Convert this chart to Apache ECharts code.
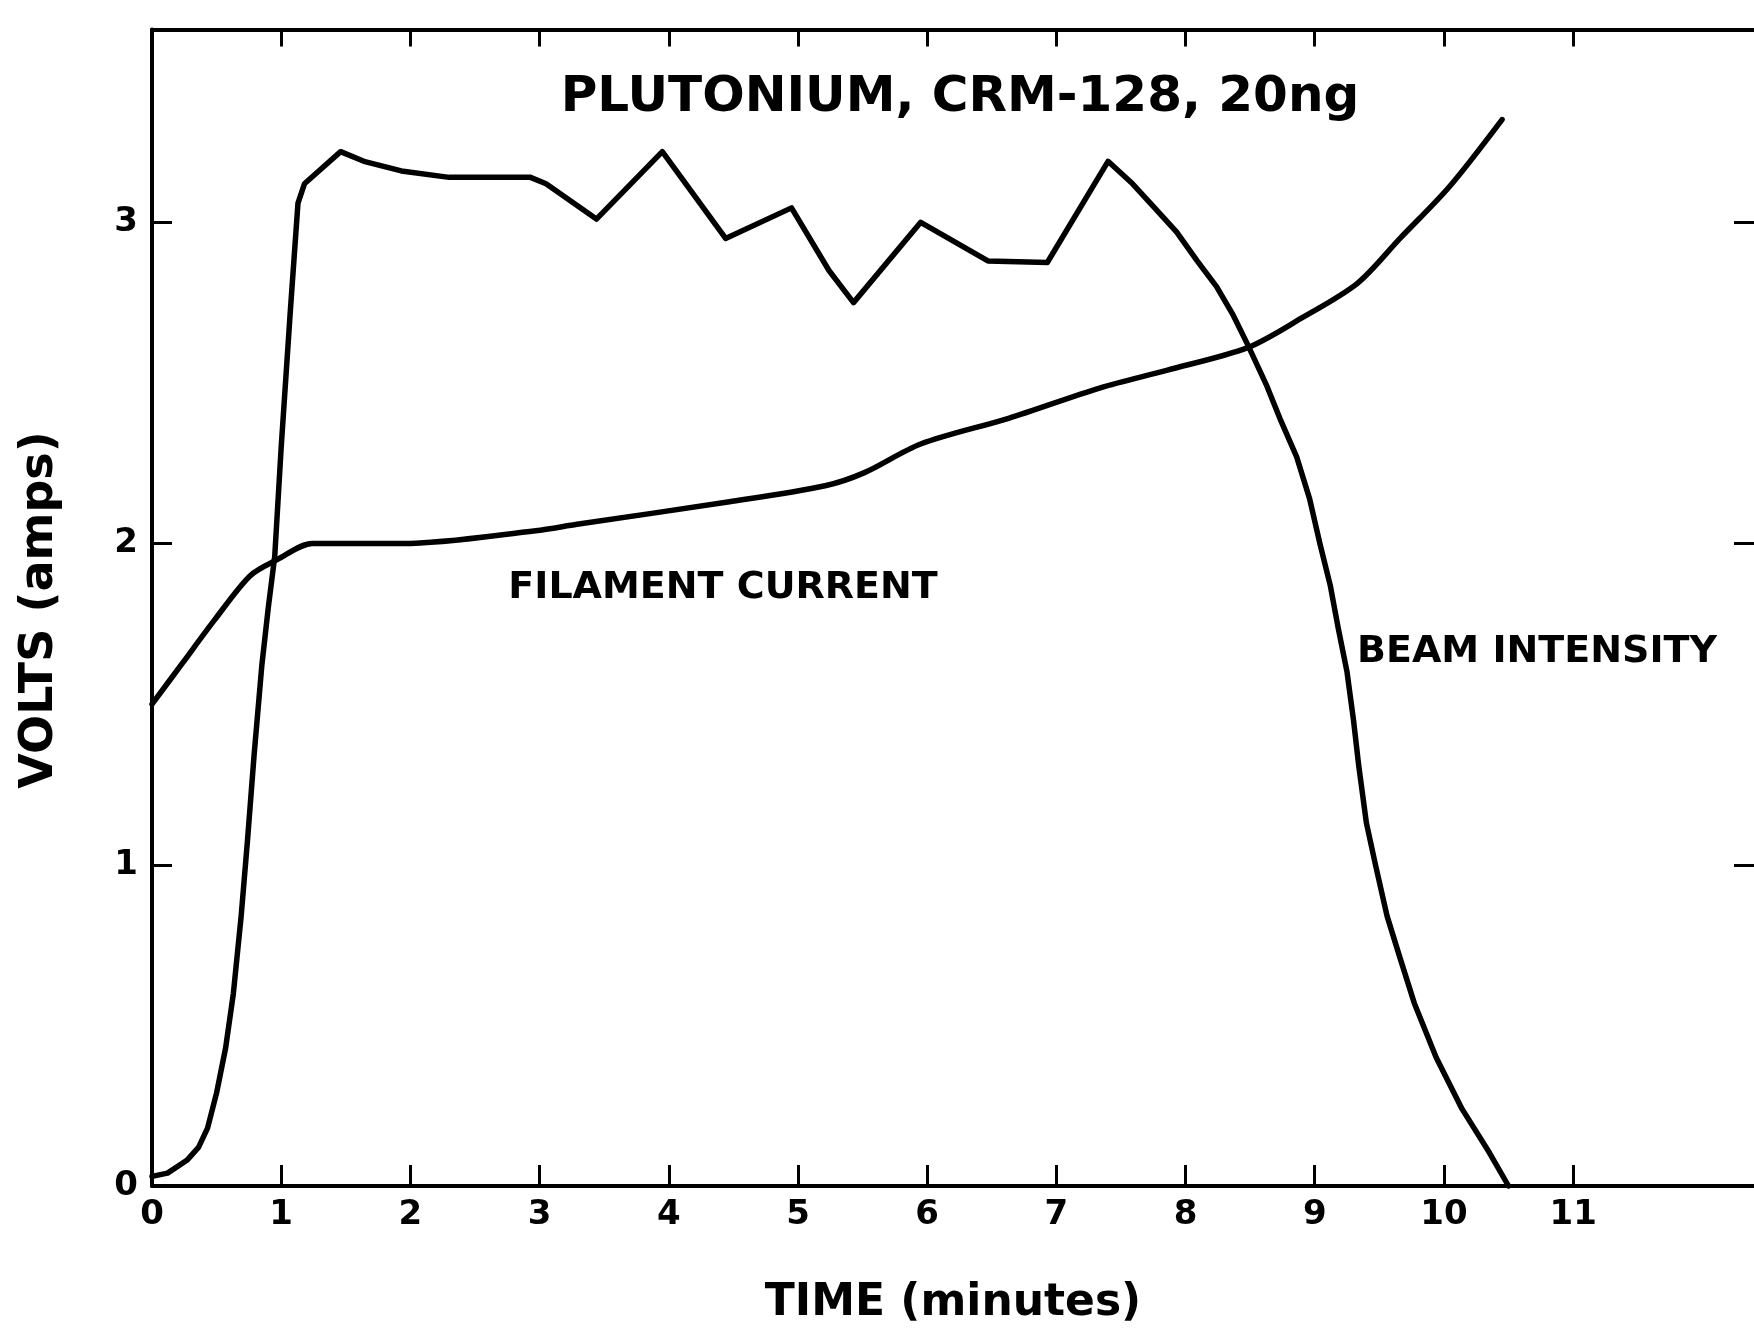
<!DOCTYPE html>
<html>
<head>
<meta charset="utf-8">
<script src="https://cdn.jsdelivr.net/npm/echarts@6/dist/echarts.min.js"></script>
<style>
  html, body { margin: 0; padding: 0; background: #fff; }
  #chart { width: 1754px; height: 1331px; }
</style>
</head>
<body>
<div id="chart"></div>
<script>
// time in minutes, volts
const beamIntensity = [
  [0, 0.03], [0.12, 0.04], [0.27, 0.08], [0.36, 0.12], [0.43, 0.18], [0.50, 0.29],
  [0.57, 0.43], [0.63, 0.60], [0.69, 0.84], [0.74, 1.08], [0.79, 1.34], [0.85, 1.62],
  [0.90, 1.80], [0.95, 1.96], [1.00, 2.30], [1.07, 2.72], [1.13, 3.06], [1.18, 3.12],
  [1.46, 3.22], [1.64, 3.19], [1.93, 3.16], [2.30, 3.14], [2.69, 3.14], [2.93, 3.14],
  [3.05, 3.12], [3.44, 3.01], [3.95, 3.22], [4.44, 2.95], [4.95, 3.045], [5.24, 2.85],
  [5.43, 2.75], [5.95, 3.00], [6.47, 2.88], [6.93, 2.875], [7.40, 3.19], [7.59, 3.12],
  [7.75, 3.05], [7.93, 2.97], [8.09, 2.88], [8.24, 2.80], [8.37, 2.71], [8.48, 2.62],
  [8.63, 2.49], [8.73, 2.39], [8.86, 2.27], [8.96, 2.14], [9.04, 2.00], [9.12, 1.87],
  [9.18, 1.74], [9.25, 1.60], [9.30, 1.45], [9.34, 1.31], [9.40, 1.13], [9.47, 1.00],
  [9.56, 0.84], [9.66, 0.71], [9.77, 0.57], [9.94, 0.40], [10.14, 0.24], [10.35, 0.105],
  [10.50, 0]
]
const filamentCurrent = [
  [0, 1.50], [0.24, 1.63], [0.48, 1.76], [0.76, 1.90], [0.97, 1.95], [1.24, 2.00],
  [1.50, 2.00], [1.94, 2.00], [2.97, 2.04], [3.29, 2.06], [4.47, 2.13], [5.21, 2.18],
  [5.51, 2.22], [5.95, 2.31], [6.63, 2.39], [7.34, 2.485], [7.86, 2.54], [8.48, 2.61],
  [8.89, 2.70], [9.33, 2.81], [9.66, 2.95], [10.04, 3.11], [10.45, 3.32]
]
const xTicks = [0, 1, 2, 3, 4, 5, 6, 7, 8, 9, 10, 11]
const xTopTicks = [1, 2, 3, 4, 5, 6, 7, 8, 9, 10, 11]
const yTicks = [0, 1, 2, 3]
const yRightTicks = [1, 2, 3]

const font = 'DejaVu Sans'
const ink = '#000'

const chart = echarts.init(document.getElementById('chart'))
chart.setOption({
  backgroundColor: '#fff',
  animation: false,
  title: {
    text: 'PLUTONIUM, CRM-128, 20ng',
    left: 955,
    top: 68,
    textAlign: 'center',
    textStyle: { fontFamily: font, fontWeight: 'bold', fontSize: 50, color: ink }
  },
  grid: { left: 152, top: 29.6, right: 0, bottom: 144 },
  xAxis: [{
    type: 'value',
    min: 0,
    max: 12.4,
    position: 'bottom',
    name: 'TIME (minutes)',
    nameLocation: 'middle',
    nameGap: 96,
    nameTextStyle: { fontFamily: font, fontWeight: 'bold', fontSize: 44, color: ink },
    axisLine: { onZero: false, lineStyle: { color: ink, width: 4 } },
    axisTick: { inside: true, length: 21, customValues: xTicks, lineStyle: { color: ink, width: 3 } },
    axisLabel: { customValues: xTicks, margin: 12, fontFamily: font, fontWeight: 'bold', fontSize: 34, color: ink },
    splitLine: { show: false }
  }, {
    type: 'value',
    min: 0,
    max: 12.4,
    position: 'top',
    axisLine: { onZero: false, lineStyle: { color: ink, width: 4 } },
    axisTick: { inside: true, length: 17, customValues: xTopTicks, lineStyle: { color: ink, width: 3 } },
    axisLabel: { show: false },
    splitLine: { show: false }
  }],
  yAxis: [{
    type: 'value',
    min: 0,
    max: 3.6,
    position: 'left',
    axisLine: { show: true, onZero: false, lineStyle: { color: ink, width: 4 } },
    axisTick: { show: true, inside: true, length: 20, customValues: yTicks, lineStyle: { color: ink, width: 3 } },
    axisLabel: { customValues: yTicks, margin: 14, fontFamily: font, fontWeight: 'bold', fontSize: 34, color: ink },
    splitLine: { show: false }
  }, {
    type: 'value',
    min: 0,
    max: 3.6,
    position: 'right',
    axisLine: { show: false, onZero: false },
    axisTick: { show: true, inside: true, length: 20, customValues: yRightTicks, lineStyle: { color: ink, width: 3 } },
    axisLabel: { show: false },
    splitLine: { show: false }
  }],
  graphic: [{
    type: 'text',
    x: 40, y: 610, rotation: Math.PI / 2,
    style: { text: 'VOLTS (amps)', fill: ink, font: 'bold 46px "DejaVu Sans"', align: 'center', verticalAlign: 'middle' }
  }, {
    type: 'text',
    x: 723, y: 588,
    style: { text: 'FILAMENT CURRENT', fill: ink, font: 'bold 38px "DejaVu Sans"', align: 'center', verticalAlign: 'middle' }
  }, {
    type: 'text',
    x: 1537, y: 652,
    style: { text: 'BEAM INTENSITY', fill: ink, font: 'bold 38px "DejaVu Sans"', align: 'center', verticalAlign: 'middle' }
  }],
  series: [{
    name: 'BEAM INTENSITY',
    type: 'line',
    data: beamIntensity,
    showSymbol: false,
    lineStyle: { color: ink, width: 5.5, join: 'round', cap: 'round' }
  }, {
    name: 'FILAMENT CURRENT',
    type: 'line',
    data: filamentCurrent,
    showSymbol: false,
    smooth: 0.3,
    lineStyle: { color: ink, width: 5.5, join: 'round', cap: 'round' }
  }]
})
</script>
</body>
</html>
